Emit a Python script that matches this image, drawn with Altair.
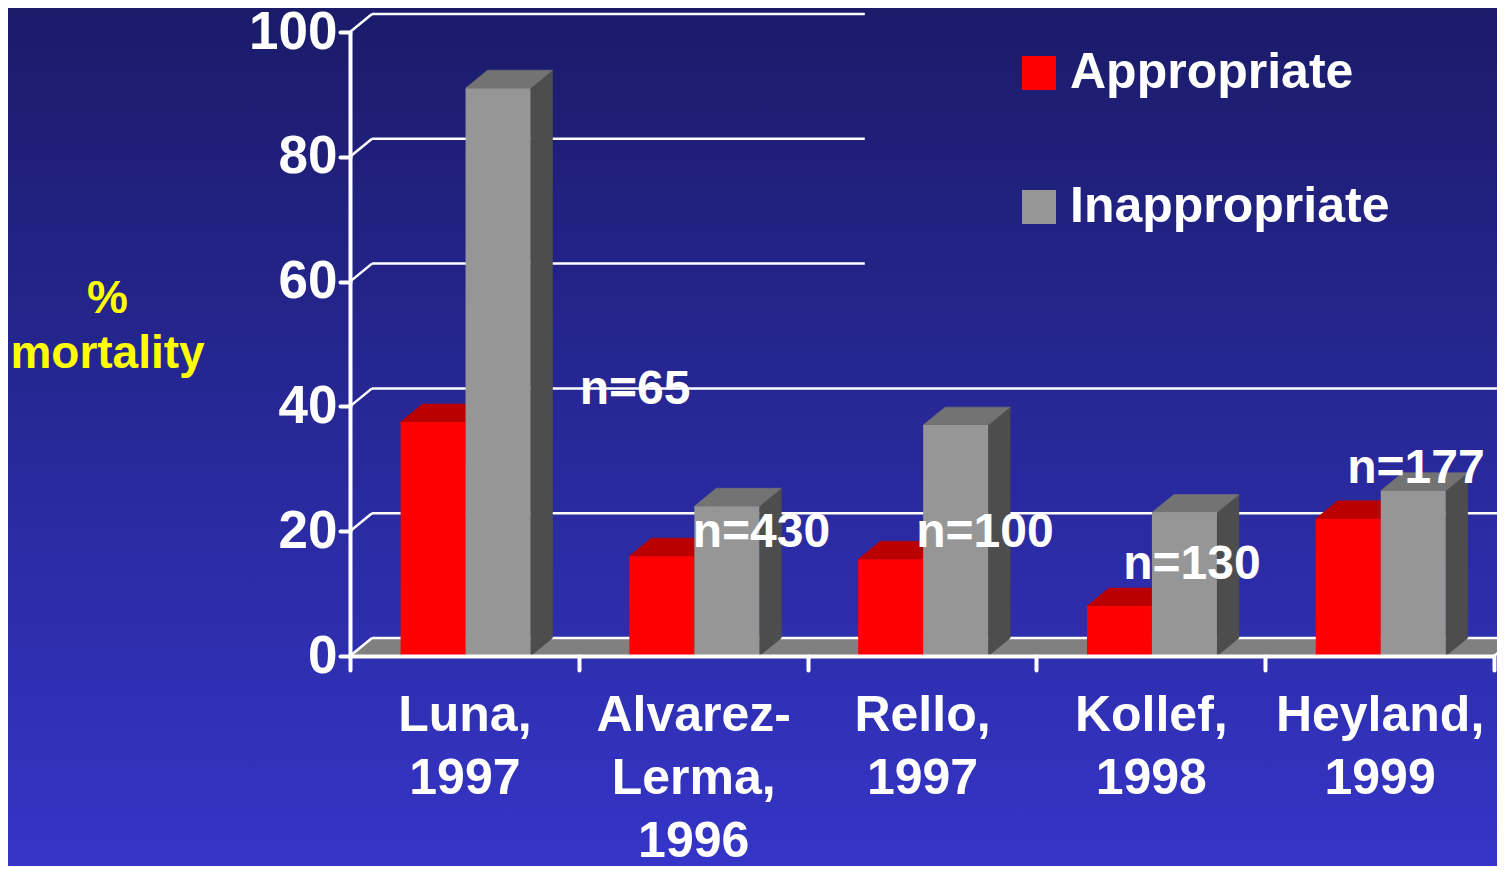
import altair as alt
import pandas as pd

# ---------------- data ----------------
studies = ["Luna, 1997", "Alvarez-Lerma, 1996", "Rello, 1997", "Kollef, 1998", "Heyland, 1999"]
series = ["Appropriate", "Inappropriate"]
appropriate = [37.5, 16, 15.5, 8, 22]
inappropriate = [91, 24, 37, 23, 26.5]
y_ticks = [0, 20, 40, 60, 80, 100]
n_labels = ["n=65", "n=430", "n=100", "n=130", "n=177"]
n_label_x = [1.246, 1.798, 2.775, 3.680, 4.659]   # in study-slot units
n_label_y = [42.7, 19.7, 19.7, 14.6, 29.9]        # in % units

# ---------------- layout constants (3-D look) ----------------
GAP = 0.221          # slot start -> first bar
BAR_W = 0.284        # bar width in slot units
DX = 22 / 228.8      # depth, x (slot units)
DY = 18 / 6.242      # depth, y (% units)
N = len(studies)
SHORT_END = 2.25     # upper grid lines hidden behind the legend box

bars, faces = [], []
for i, s in enumerate(studies):
    for j, (ser, vals) in enumerate(zip(series, [appropriate, inappropriate])):
        v = vals[i]
        L = i + GAP + j * BAR_W
        R = L + BAR_W
        fid = f"{i}-{j}"
        bars.append(dict(study=s, series=ser, value=v, x0=L, x1=R, base=0))
        for (x, lo, hi) in [(L, v, v), (L + DX, v, v + DY), (R, v, v + DY), (R + DX, v + DY, v + DY)]:
            faces.append(dict(face="top", fid="t" + fid, series=ser, x=x, lo=lo, hi=hi))
        for (x, lo, hi) in [(R, 0, v), (R + DX, DY, v + DY)]:
            faces.append(dict(face="side", fid="s" + fid, series=ser, x=x, lo=lo, hi=hi))
bars = pd.DataFrame(bars)
faces = pd.DataFrame(faces)

floor = pd.DataFrame([
    dict(x=0, lo=0, hi=0), dict(x=DX, lo=0, hi=DY),
    dict(x=N, lo=0, hi=DY), dict(x=N + DX, lo=DY, hi=DY)])

grid = []
for v in y_ticks:
    end = SHORT_END if v >= 50 else N + 0.2
    grid.append(dict(gx=DX, gx2=end, gy=v + DY, gy2=v + DY))
    grid.append(dict(gx=0, gx2=DX, gy=v, gy2=v + DY))
grid.append(dict(gx=N, gx2=N + DX, gy=0, gy2=DY))
grid = pd.DataFrame(grid)

ann = pd.DataFrame(dict(label=n_labels, x=n_label_x, y=n_label_y))

FONT = "Liberation Sans"
xscale = alt.Scale(domain=[0, N], nice=False, zero=False)
yscale = alt.Scale(domain=[0, 100], nice=False, zero=True)
yaxis = alt.Axis(values=y_ticks, title=["%", "mortality"], titleColor="#ffff00", titleFontSize=46,
                 titleFontWeight="bold", titleFont=FONT, titleAngle=0, titleAlign="center",
                 titleBaseline="alphabetic", titleX=-243, titleY=280, titleLineHeight=55,
                 labelColor="white", labelFontSize=53, labelFontWeight="bold", labelFont=FONT,
                 labelPadding=3, tickColor="white", tickWidth=4, tickSize=10, tickCap="round",
                 domainColor="white", domainWidth=4, grid=False, zindex=1)


def Y(field):
    return alt.Y(field, type="quantitative", scale=yscale, axis=yaxis, stack=None)


def shade(red, gray):
    return alt.condition("datum.series == 'Appropriate'", alt.value(red), alt.value(gray))


grad = alt.LinearGradient(gradient="linear", x1=0, x2=0, y1=0, y2=1,
                          stops=[alt.GradientStop(offset=0, color="#1b1b6a"),
                                 alt.GradientStop(offset=1, color="#3535c8")])
bg = alt.Chart(pd.DataFrame({"a": [0]})).mark_rect(fill=grad).encode(
    x=alt.value(-342), x2=alt.value(1150), y=alt.value(-24), y2=alt.value(840))

floor_l = alt.Chart(floor).mark_area(color="#808080", orient="vertical").encode(
    x=alt.X("x:Q", scale=xscale, axis=None), y=Y("hi"), y2="lo")

grid_l = alt.Chart(grid).mark_rule(color="white", strokeWidth=2.5).encode(
    x=alt.X("gx:Q", scale=xscale, axis=None), x2="gx2", y=Y("gy"), y2="gy2")

side_l = alt.Chart(faces).transform_filter("datum.face == 'side'").mark_area(
    orient="vertical", strokeWidth=0.6).encode(
    x=alt.X("x:Q", scale=xscale, axis=None), y=Y("hi"), y2="lo", detail="fid:N",
    color=shade("#990000", "#4d4d4d"), stroke=shade("#990000", "#4d4d4d"))

top_l = alt.Chart(faces).transform_filter("datum.face == 'top'").mark_area(
    orient="vertical", strokeWidth=0.6).encode(
    x=alt.X("x:Q", scale=xscale, axis=None), y=Y("hi"), y2="lo", detail="fid:N",
    color=shade("#bb0000", "#737373"), stroke=shade("#bb0000", "#737373"))

front_l = alt.Chart(bars).mark_rect().encode(
    x=alt.X("x0:Q", scale=xscale, axis=None), x2="x1", y=Y("value"), y2="base",
    color=alt.Color("series:N", scale=alt.Scale(domain=series, range=["#ff0000", "#969696"]),
                    legend=alt.Legend(orient="none", legendX=664, legendY=16, title=None,
                                      symbolType="square", symbolSize=1156, symbolStrokeWidth=0,
                                      labelFontSize=50, labelFontWeight="bold", labelFont=FONT,
                                      labelColor="white", labelOffset=6, rowPadding=84,
                                      labelLimit=0, padding=0)))

ann_l = alt.Chart(ann).mark_text(fontSize=48, fontWeight="bold", font=FONT, color="white",
                                 align="center", baseline="middle").encode(
    x=alt.X("x:Q", scale=xscale, axis=None), y=Y("y"), text="label:N")

inner = alt.layer(bg, floor_l, grid_l, side_l, top_l, front_l, ann_l)

xaxis_l = alt.Chart(pd.DataFrame({"study": studies})).mark_point(opacity=0).encode(
    x=alt.X("study:N", sort=studies, scale=alt.Scale(domain=studies, paddingInner=0, paddingOuter=0),
            axis=alt.Axis(title=None, tickBand="extent", labelAngle=0, labelAlign="center",
                          labelExpr="split(replace(replace(datum.label, '-', '-|'), ', ', ',|'), '|')",
                          labelBaseline="top", labelLineHeight=63, labelFontSize=50,
                          labelFontWeight="bold", labelFont=FONT, labelColor="white",
                          labelPadding=20, labelLimit=0, labelOverlap=False, labelBound=False,
                          tickColor="white", tickWidth=4, tickSize=14, tickCap="round",
                          domainColor="white", domainWidth=4, zindex=1)),
    y=alt.value(0))

chart = alt.layer(inner, xaxis_l).resolve_scale(x="independent").properties(
    width=1144, height=624,
    padding={"left": 342, "top": 24, "right": 3, "bottom": 210},
    autosize=alt.AutoSizeParams(type="none"),
).configure(background="#1b1b6a", font=FONT).configure_view(stroke=None)

chart.save("out.html", embed_options={"renderer": "svg", "actions": False})
